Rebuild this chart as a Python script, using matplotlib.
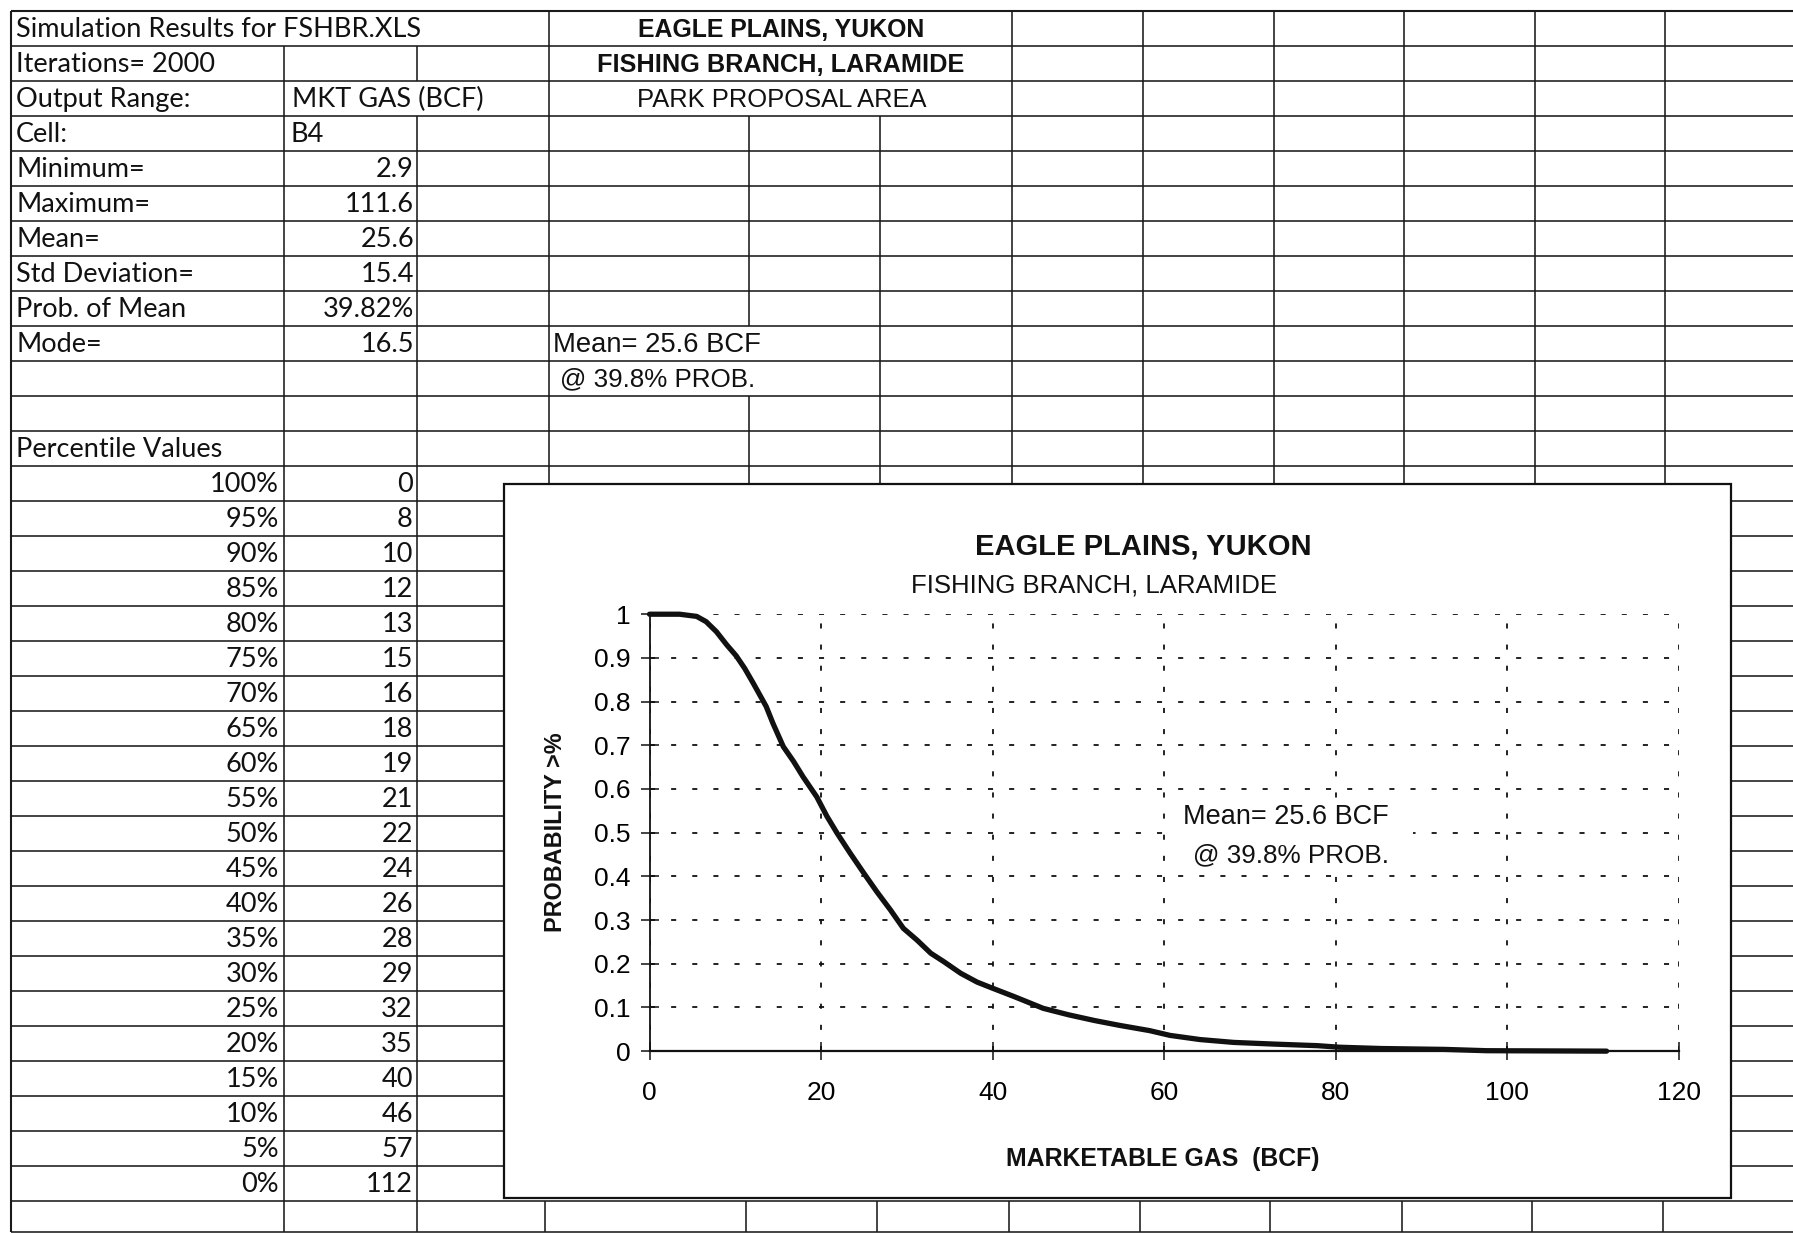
import matplotlib
matplotlib.use("Agg")
import matplotlib.pyplot as plt
from matplotlib.patches import Rectangle
from matplotlib import font_manager

# ---------------- data ----------------
gas_bcf = [0, 3.5, 5.5, 6.6, 7.8, 9.0, 10.1, 11.1, 12.1, 13.6, 14.4, 15.6, 16.8,
           17.9, 19.5, 20.7, 21.9, 23.4, 25.0, 26.5, 28.1, 29.6, 31.2, 32.8, 34.3,
           36.3, 38.2, 40.0, 42.5, 45.9, 48.9, 51.9, 54.8, 58.3, 60.7, 64.2, 68.1,
           73.0, 77.9, 80.4, 85.3, 92.7, 97.6, 111.6]
prob_exceed = [1.0, 1.0, 0.995, 0.983, 0.96, 0.930, 0.905, 0.876, 0.842, 0.789,
               0.75, 0.697, 0.663, 0.628, 0.582, 0.537, 0.498, 0.453, 0.407, 0.365,
               0.323, 0.281, 0.254, 0.224, 0.205, 0.178, 0.158, 0.144, 0.125, 0.098,
               0.083, 0.070, 0.059, 0.047, 0.036, 0.0265, 0.020, 0.0160, 0.0125,
               0.009, 0.006, 0.004, 0.001, 0.0]

stat_labels = ["Minimum=", "Maximum=", "Mean=", "Std Deviation=", "Prob. of Mean", "Mode="]
stat_values = ["2.9", "111.6", "25.6", "15.4", "39.82%", "16.5"]
pct_labels = ["100%", "95%", "90%", "85%", "80%", "75%", "70%", "65%", "60%", "55%",
              "50%", "45%", "40%", "35%", "30%", "25%", "20%", "15%", "10%", "5%", "0%"]
pct_values = [0, 8, 10, 12, 13, 15, 16, 18, 19, 21, 22, 24, 26, 28, 29, 32, 35, 40,
              46, 57, 112]
x_ticks = [0, 20, 40, 60, 80, 100, 120]
y_ticks = [0, 0.1, 0.2, 0.3, 0.4, 0.5, 0.6, 0.7, 0.8, 0.9, 1]
y_ticklabels = ["0", "0.1", "0.2", "0.3", "0.4", "0.5", "0.6", "0.7", "0.8", "0.9", "1"]

# ---------------- fonts ----------------
_names = {f.name for f in font_manager.fontManager.ttflist}
SHEET = ["Lato", "DejaVu Sans"]
CHART = ["Liberation Sans", "DejaVu Sans"]
if "Liberation Sans Narrow" in _names:
    NARROW = ["Liberation Sans Narrow", "Liberation Sans", "DejaVu Sans"]
    YLAB_SIZE = 19.0
else:
    NARROW = CHART
    YLAB_SIZE = 16.8

# ---------------- figure ----------------
W, H = 1568.0, 1078.0
fig = plt.figure(figsize=(17.93, 12.33), dpi=100)
fig.patch.set_facecolor("white")
bg = fig.add_axes([0, 0, 1, 1])
bg.set_xlim(0, W)
bg.set_ylim(H, 0)
bg.axis("off")

LC = "#1a1a1a"
LW = 1.15


def ry(i):
    return 10 + 30.6 * i


def hline(y, x0, x1, lw=LW):
    bg.plot([x0, x1], [y, y], color=LC, lw=lw, zorder=1, solid_capstyle="butt")


def vline(x, y0, y1, lw=LW):
    bg.plot([x, x], [y0, y1], color=LC, lw=lw, zorder=1, solid_capstyle="butt")


CH_L, CH_T, CH_R, CH_B = 441, 423, 1514, 1047
BOT = 1077

# horizontal grid
for i in range(0, 14):
    hline(ry(i), 10, W, lw=1.5 if i == 0 else LW)
for i in range(14, 34):
    hline(ry(i), 10, CH_L)
    hline(ry(i), CH_R, W)
hline(ry(34), 10, W)
hline(BOT, 10, W)

# vertical grid
vline(10, 10, BOT, lw=1.5)
vline(248, ry(1), BOT)
vline(365, ry(1), ry(2))
vline(365, ry(3), BOT)
vline(480, 10, CH_T)
vline(655, ry(3), ry(9))
vline(655, ry(11), CH_T)
vline(770, ry(3), CH_T)
for x in [885, 1000, 1114, 1228, 1342, 1456]:
    vline(x, 10, CH_T)
for x in [477, 652, 767, 882, 997, 1111, 1226, 1340, 1454]:
    vline(x, ry(34), BOT)

# spreadsheet text
FS = 19.5
def cell(txt, x, i, ha="left", fam=SHEET, size=FS, weight="normal"):
    bg.text(x, ry(i) + 15.8, txt, ha=ha, va="center", fontsize=size,
            family=fam, weight=weight, color="#111111", zorder=2)

cell("Simulation Results for FSHBR.XLS", 14, 0)
cell("Iterations= 2000", 14, 1)
cell("Output Range:", 14, 2)
cell("MKT GAS (BCF)", 255, 2)
cell("Cell:", 14, 3)
cell("B4", 254, 3)
for k, (lab, val) in enumerate(zip(stat_labels, stat_values)):
    cell(lab, 14, 4 + k)
    cell(val, 362, 4 + k, ha="right")
cell("Percentile Values", 14, 12)
for k, (lab, val) in enumerate(zip(pct_labels, pct_values)):
    cell(lab, 244, 13 + k, ha="right")
    cell(str(val), 361, 13 + k, ha="right")

cell("EAGLE PLAINS, YUKON", 683, 0, ha="center", fam=CHART, size=17.9, weight="bold")
cell("FISHING BRANCH, LARAMIDE", 683, 1, ha="center", fam=CHART, size=18.2, weight="bold")
cell("PARK PROPOSAL AREA", 684, 2, ha="center", fam=CHART, size=18.4)
cell("Mean= 25.6 BCF", 484, 9, fam=CHART, size=19.7)
cell("@ 39.8% PROB.", 490, 10, fam=CHART, size=18.7)

# chart box
bg.add_patch(Rectangle((CH_L, CH_T), CH_R - CH_L, CH_B - CH_T, facecolor="white",
                       edgecolor="#111111", lw=1.6, zorder=5))

# ---------------- chart ----------------
X0, X1, Y0, Y1 = 568, 1468, 919, 537
ax = fig.add_axes([X0 / W, 1 - Y0 / H, (X1 - X0) / W, (Y0 - Y1) / H])
ax.set_facecolor("none")
ax.set_xlim(0, 120)
ax.set_ylim(0, 1)

ax.plot(gas_bcf, prob_exceed, color="#111111", lw=3.8, solid_capstyle="round",
        solid_joinstyle="round", zorder=4, clip_on=False)

ax.set_xticks(x_ticks)
ax.set_xticklabels([str(v) for v in x_ticks])
ax.set_yticks(y_ticks)
ax.set_yticklabels(y_ticklabels)
for spine in ["top", "right"]:
    ax.spines[spine].set_visible(False)
ax.spines["left"].set_linewidth(1.3)
ax.spines["bottom"].set_linewidth(1.6)
ax.spines["left"].set_color("#111111")
ax.spines["bottom"].set_color("#111111")
ax.tick_params(axis="both", direction="inout", length=13, width=1.1, color="#111111")
ax.tick_params(axis="x", pad=15, labelsize=19)
ax.tick_params(axis="y", pad=7, labelsize=19)
for lab in ax.get_xticklabels() + ax.get_yticklabels():
    lab.set_family(CHART)

ax.yaxis.grid(True, color="#111111", lw=1.3, linestyle=(0, (2.8, 8.9)))
ax.xaxis.grid(True, color="#111111", lw=1.3, linestyle=(0, (2.8, 8.9)))
ax.set_axisbelow(True)

# white text box behind the annotation (hides the grid there)
ax.add_patch(Rectangle((60.4, 0.43), 28.6, 0.145, facecolor="white",
                       edgecolor="none", zorder=1))

ax.text(0.48, 1.154, "EAGLE PLAINS, YUKON", transform=ax.transAxes, ha="center",
        va="center", fontsize=21, weight="bold", family=CHART, color="#111111")
ax.text(0.432, 1.065, "FISHING BRANCH, LARAMIDE", transform=ax.transAxes,
        ha="center", va="center", fontsize=18.5, family=CHART, color="#111111")
ax.set_ylabel("PROBABILITY >%", fontsize=YLAB_SIZE, weight="bold", family=NARROW,
              color="#111111")
ax.yaxis.set_label_coords(-0.08, 0.5)
ax.set_xlabel("MARKETABLE GAS  (BCF)", fontsize=17.9, weight="bold", family=CHART,
              color="#111111")
ax.xaxis.set_label_coords(0.499, -0.22)

ax.text(62.2, 0.537, "Mean= 25.6 BCF", ha="left", va="center", fontsize=19.5,
        family=CHART, color="#111111", zorder=3)
ax.text(63.4, 0.448, "@ 39.8% PROB.", ha="left", va="center", fontsize=18.8,
        family=CHART, color="#111111", zorder=3)

fig.savefig("out.png", dpi=100, facecolor="white")
